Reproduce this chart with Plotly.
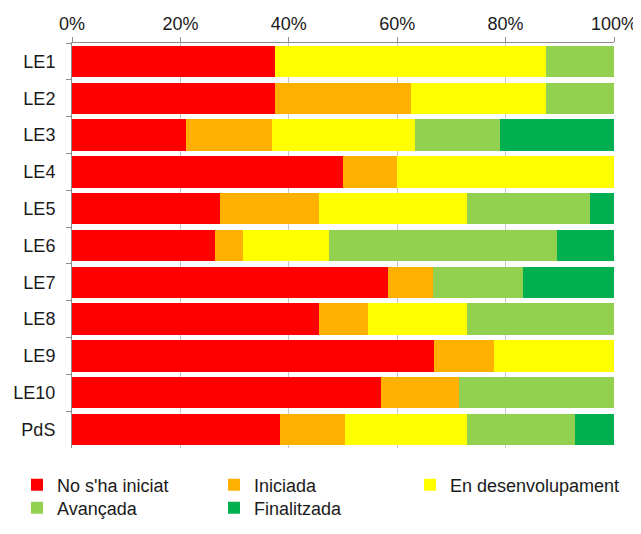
import plotly.graph_objects as go

categories = ["LE1", "LE2", "LE3", "LE4", "LE5", "LE6", "LE7", "LE8", "LE9", "LE10", "PdS"]
series_names = ["No s'ha iniciat", "Iniciada", "En desenvolupament", "Avançada", "Finalitzada"]

no_iniciat = [37.5, 37.5, 21.1, 50.0, 27.3, 26.3, 58.3, 45.5, 66.7, 57.1, 38.4]
iniciada = [0.0, 25.0, 15.8, 10.0, 18.2, 5.3, 8.3, 9.1, 11.1, 14.3, 12.0]
desenvolupament = [50.0, 25.0, 26.3, 40.0, 27.3, 15.8, 0.0, 18.2, 22.2, 0.0, 22.4]
avancada = [12.5, 12.5, 15.8, 0.0, 22.7, 42.1, 16.7, 27.3, 0.0, 28.6, 20.0]
finalitzada = [0.0, 0.0, 21.1, 0.0, 4.5, 10.5, 16.7, 0.0, 0.0, 0.0, 7.2]

x_tick_vals = [0, 20, 40, 60, 80, 100]
x_tick_text = ["0%", "20%", "40%", "60%", "80%", "100%"]

colors = ["#FF0000", "#FFB000", "#FFFF00", "#92D050", "#00B050"]
values = [no_iniciat, iniciada, desenvolupament, avancada, finalitzada]
legend_ids = ["legend", "legend", "legend3", "legend2", "legend2"]

FONT = "Liberation Sans, Arial, sans-serif"
TXT = "#1a1a1a"

# the page body has an 8px margin, so the figure is 8px smaller than the window
W, H = 633, 526

fig = go.Figure()
for name, vals, col, lg in zip(series_names, values, colors, legend_ids):
    fig.add_trace(go.Bar(
        y=categories, x=vals, name=name, orientation="h",
        marker=dict(color=col, line=dict(width=0)),
        legend=lg,
    ))

legend_common = dict(
    orientation="h", xref="container", yref="container",
    xanchor="left", yanchor="middle",
    font=dict(family=FONT, size=18, color=TXT),
    entrywidth=152, itemwidth=30, bgcolor="rgba(0,0,0,0)",
    traceorder="normal",
)

fig.update_layout(
    width=W, height=H,
    margin=dict(l=64, r=27, t=35, b=86, autoexpand=False),
    barmode="stack", bargap=0.15,
    plot_bgcolor="white", paper_bgcolor="white",
    font=dict(family=FONT, size=18, color=TXT),
    legend=dict(legend_common, x=9 / W, y=1 - 477 / H),
    legend3=dict(legend_common, x=402 / W, y=1 - 477 / H, entrywidth=192),
    legend2=dict(legend_common, x=9 / W, y=1 - 500 / H),
    xaxis=dict(
        side="top", range=[0, 100], tickmode="array",
        tickvals=x_tick_vals, ticktext=x_tick_text, automargin=False,
        showgrid=True, gridcolor="#c8c8c8", gridwidth=1,
        showline=True, linecolor="#8c8c8c", linewidth=1,
        ticks="outside", ticklen=5, tickcolor="#8c8c8c",
        ticklabelstandoff=0, zeroline=False,
        tickfont=dict(family=FONT, size=18, color=TXT),
    ),
    yaxis=dict(
        autorange="reversed", tickson="boundaries", automargin=False,
        showline=True, linecolor="#8c8c8c", linewidth=1,
        ticks="outside", ticklen=5, tickcolor="#8c8c8c",
        ticklabelstandoff=12, showgrid=False,
        tickfont=dict(family=FONT, size=18, color=TXT),
    ),
)

fig.write_html("out.html")
